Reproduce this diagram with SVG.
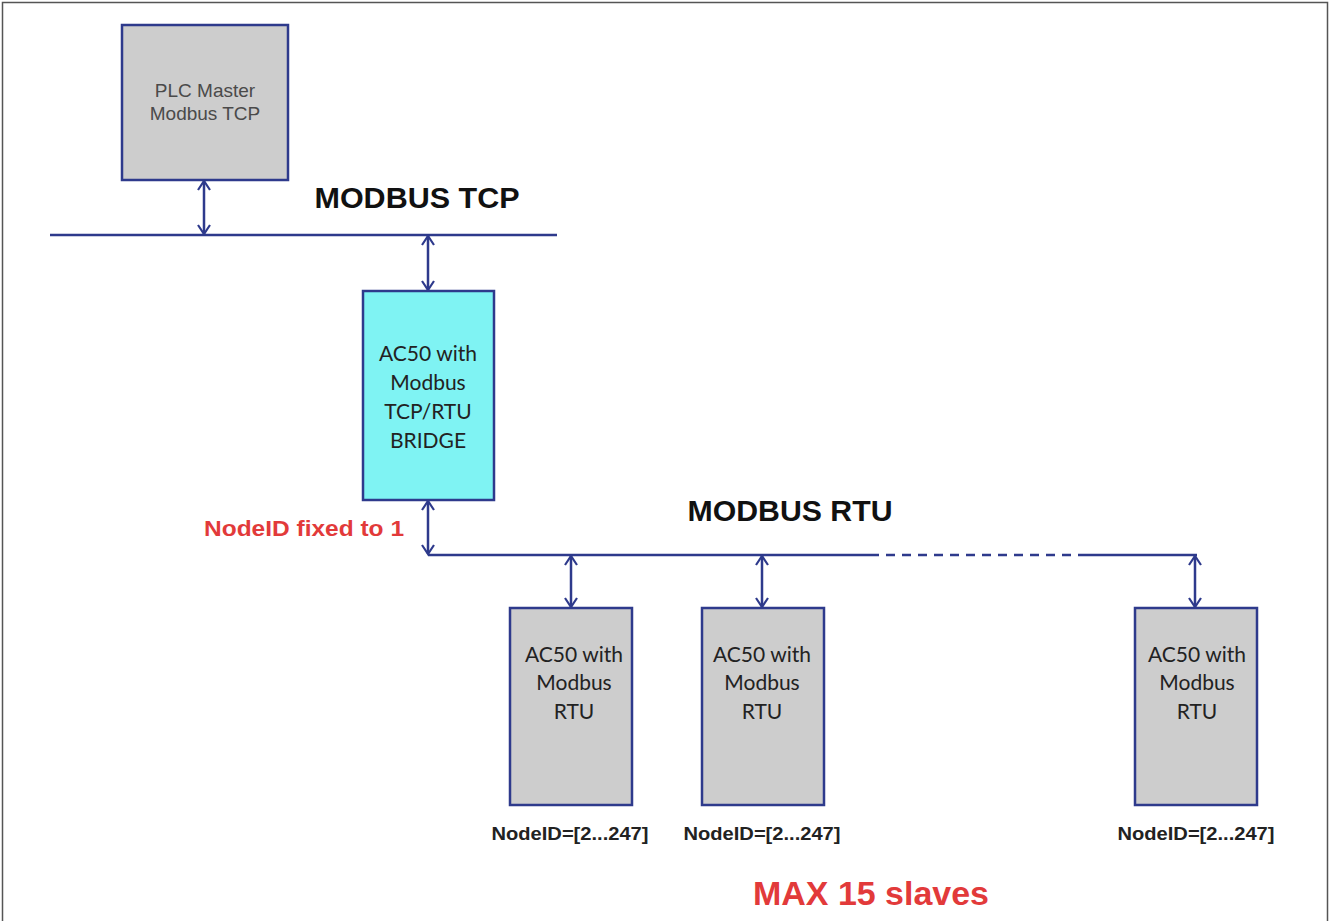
<svg xmlns="http://www.w3.org/2000/svg" width="1330" height="921" viewBox="0 0 1330 921">
<defs>
<marker id="arr" viewBox="0 0 14 14" refX="12" refY="7" markerWidth="14" markerHeight="14" markerUnits="userSpaceOnUse" orient="auto-start-reverse">
<path d="M3,1 L12,7 L3,13" fill="none" stroke="#2e3a8c" stroke-width="2.2"/>
</marker>
<style>
.bus{stroke:#2e3a8c;stroke-width:2.5;fill:none}
.conn{stroke:#2e3a8c;stroke-width:2.5;fill:none;marker-start:url(#arr);marker-end:url(#arr)}
.box{stroke:#2e3a8c;stroke-width:2.5}
.grey{fill:#cdcdcd}
.cyan{fill:#7ff3f3}
.lbl{font-family:Lato,"Open Sans",sans-serif;font-size:21px;fill:#222;text-anchor:middle}
.plc{font-family:"Liberation Sans",Arial,sans-serif;font-size:19px;fill:#4a4a4a;text-anchor:middle}
.bus-t{font-family:"Liberation Sans",Arial,sans-serif;font-weight:bold;font-size:29px;fill:#111;text-anchor:middle}
.nid{font-family:"Liberation Sans",Arial,sans-serif;font-weight:bold;font-size:18px;fill:#222;text-anchor:middle}
.red{font-family:"Liberation Sans",Arial,sans-serif;font-weight:bold;fill:#e23a3a}
</style>
</defs>
<rect x="0" y="0" width="1330" height="921" fill="#fff"/>
<rect x="2.5" y="2.5" width="1325" height="930" fill="none" stroke="#555" stroke-width="1.5"/>

<g id="connectors">
<line class="bus" x1="50" y1="235" x2="557" y2="235"/>
<path class="bus" d="M428,555 H870"/>
<path class="bus" d="M870,555 H1085" stroke-dasharray="9,7"/>
<path class="bus" d="M1085,555 H1197"/>
<line class="conn" x1="204" y1="181" x2="204" y2="234"/>
<line class="conn" x1="428" y1="236" x2="428" y2="290"/>
<line class="conn" x1="428" y1="501" x2="428" y2="554"/>
<line class="conn" x1="571" y1="556" x2="571" y2="607"/>
<line class="conn" x1="762" y1="556" x2="762" y2="607"/>
<line class="conn" x1="1195" y1="556" x2="1195" y2="607"/>
</g>

<g id="plc">
<rect class="box grey" x="122" y="25" width="166" height="155"/>
<text class="plc" x="205" y="97">PLC Master</text>
<text class="plc" x="205" y="120">Modbus TCP</text>
</g>

<g id="bridge">
<rect class="box cyan" x="363" y="291" width="131" height="209"/>
<text class="lbl" x="428" y="361">AC50 with</text>
<text class="lbl" x="428" y="390">Modbus</text>
<text class="lbl" x="428" y="419">TCP/RTU</text>
<text class="lbl" x="428" y="448">BRIDGE</text>
</g>

<g id="slave1">
<rect class="box grey" x="510" y="608" width="122" height="197"/>
<text class="lbl" x="574" y="662">AC50 with</text>
<text class="lbl" x="574" y="690">Modbus</text>
<text class="lbl" x="574" y="719">RTU</text>
<text class="nid" x="570" y="840" textLength="157" lengthAdjust="spacingAndGlyphs">NodeID=[2...247]</text>
</g>

<g id="slave2">
<rect class="box grey" x="702" y="608" width="122" height="197"/>
<text class="lbl" x="762" y="662">AC50 with</text>
<text class="lbl" x="762" y="690">Modbus</text>
<text class="lbl" x="762" y="719">RTU</text>
<text class="nid" x="762" y="840" textLength="157" lengthAdjust="spacingAndGlyphs">NodeID=[2...247]</text>
</g>

<g id="slave3">
<rect class="box grey" x="1135" y="608" width="122" height="197"/>
<text class="lbl" x="1197" y="662">AC50 with</text>
<text class="lbl" x="1197" y="690">Modbus</text>
<text class="lbl" x="1197" y="719">RTU</text>
<text class="nid" x="1196" y="840" textLength="157" lengthAdjust="spacingAndGlyphs">NodeID=[2...247]</text>
</g>

<g id="labels">
<text class="bus-t" x="417" y="208" textLength="205" lengthAdjust="spacingAndGlyphs">MODBUS TCP</text>
<text class="bus-t" x="790" y="521" textLength="205" lengthAdjust="spacingAndGlyphs">MODBUS RTU</text>
<text class="red" x="404" y="536" font-size="22" text-anchor="end" textLength="200" lengthAdjust="spacingAndGlyphs">NodeID fixed to 1</text>
<text class="red" x="871" y="905" font-size="33" text-anchor="middle" textLength="236" lengthAdjust="spacingAndGlyphs">MAX 15 slaves</text>
</g>
</svg>
